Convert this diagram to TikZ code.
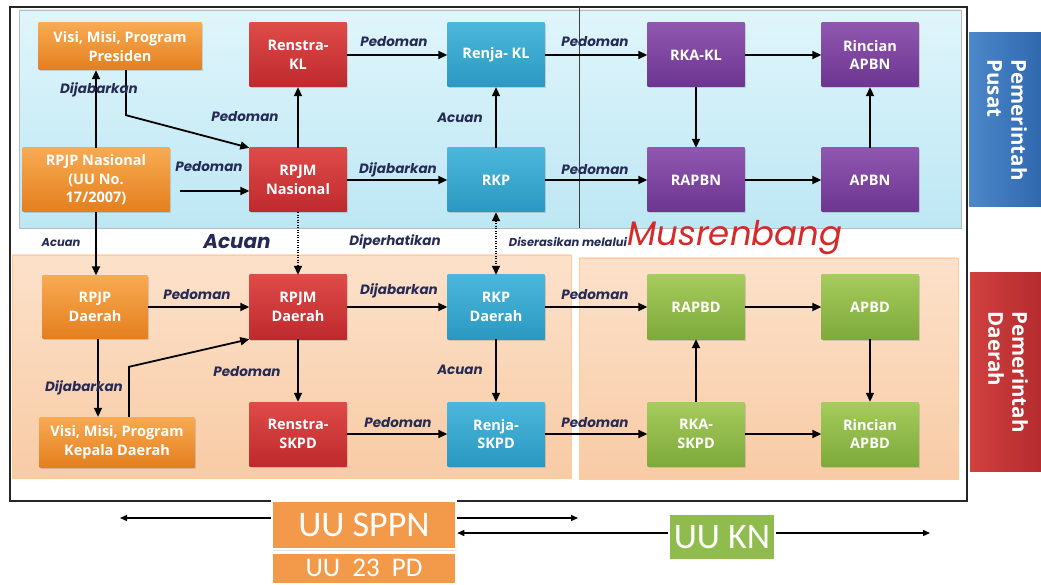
\documentclass[tikz,border=0pt]{standalone}
\usepackage{fontspec}
\setmainfont{Carlito}
\newfontfamily\boxfont{Open Sans}
\newfontfamily\lblfont{Poppins}
\newfontfamily\bigfont{Carlito}
\usetikzlibrary{arrows.meta,shadows}
\definecolor{navy}{HTML}{262B55}
\definecolor{orT}{HTML}{F8AA52}
\definecolor{orB}{HTML}{E47F1E}
\definecolor{rdT}{HTML}{DE4B48}
\definecolor{rdB}{HTML}{BF292E}
\definecolor{cyT}{HTML}{4CB7DB}
\definecolor{cyB}{HTML}{2A98C2}
\definecolor{puT}{HTML}{9057B0}
\definecolor{puB}{HTML}{6C3590}
\definecolor{grT}{HTML}{A5CC5C}
\definecolor{grB}{HTML}{7EA93B}
\definecolor{bluT}{HTML}{E0F5FB}
\definecolor{bluB}{HTML}{BDE7F4}
\definecolor{pchT}{HTML}{FCE1CA}
\definecolor{pchB}{HTML}{F8CBA5}
\definecolor{musred}{HTML}{D42A2A}
\definecolor{pusatT}{HTML}{4C88CA}
\definecolor{pusatB}{HTML}{2E66AC}
\definecolor{daerT}{HTML}{D0403F}
\definecolor{daerB}{HTML}{B32A2E}
\definecolor{uuor}{HTML}{F39A4A}
\definecolor{uugr}{HTML}{8FBC4C}
\begin{document}
\begin{tikzpicture}[x=1pt,y=-1pt,
  box/.style={minimum width=97pt, minimum height=64pt, align=center, text=white,
    font=\boxfont\bfseries\fontsize{14.5}{18.5}\selectfont, inner sep=1pt,
    drop shadow={shadow xshift=1.5pt, shadow yshift=-1.5pt, opacity=0.3}},
  orbox/.style={box, top color=orT, bottom color=orB},
  rdbox/.style={box, top color=rdT, bottom color=rdB},
  cybox/.style={box, top color=cyT, bottom color=cyB},
  pubox/.style={box, top color=puT, bottom color=puB},
  grbox/.style={box, top color=grT, bottom color=grB},
  arr/.style={-{Triangle[length=9pt,width=8pt]}, line width=1.8pt, black},
  dotarr/.style={arr, line width=1.5pt, dash pattern=on 1pt off 1.5pt},
  thinarr/.style={-{Triangle[length=7pt,width=6pt]}, line width=1.3pt, black},
  lbl/.style={font=\lblfont\bfseries\itshape\fontsize{13.5}{16}\selectfont, text=navy, inner sep=0pt},
  side/.style={rotate=-90, align=left, text=white, minimum height=76pt,
    font=\boxfont\bfseries\fontsize{20.5}{24}\selectfont},
  uubox/.style={text=white, font=\bigfont\fontsize{36}{40}\selectfont, draw=white, line width=2.5pt,
    drop shadow={shadow xshift=1pt, shadow yshift=-1.5pt, opacity=0.25}}
]
\clip (0,0) rectangle (1041,585);
\fill[white] (0,0) rectangle (1041,585);

% regions
\draw[line width=1.5pt, black!85] (10,7) rectangle (967,501);
\draw[draw=gray!55, top color=bluT, bottom color=bluB] (19,10) rectangle (961,228);
\draw[line width=1pt, black!75] (579,7) -- (579,228);
\draw[draw=orange!40, top color=pchT, bottom color=pchB] (12,255) rectangle (571,478);
\draw[draw=orange!40, top color=pchT, bottom color=pchB] (579,258) rectangle (958,479);

% side boxes
\node[side, minimum width=174pt, left color=pusatT, right color=pusatB] (pusat) at (1007,120) {Pemerintah\\Pusat};
\node[side, minimum width=199pt, left color=daerT, right color=daerB] (daerah) at (1008,372) {Pemerintah\\Daerah};

% top row
\node[orbox, minimum width=163pt, minimum height=47pt] (vmp) at (120,46.5) {Visi, Misi, Program\\Presiden};
\node[rdbox] (renstrakl) at (298,55) {Renstra-\\KL};
\node[cybox] (renjakl) at (496,55) {Renja- KL};
\node[pubox] (rkakl) at (696,55) {RKA-KL};
\node[pubox] (rincapbn) at (870,55) {Rincian\\APBN};
% second row
\node[orbox, minimum width=147pt] (rpjpn) at (96,180) {RPJP Nasional\\(UU No.\\17/2007)};
\node[rdbox] (rpjmn) at (298,180) {RPJM\\Nasional};
\node[cybox] (rkp) at (496,180) {RKP};
\node[pubox] (rapbn) at (696,180) {RAPBN};
\node[pubox] (apbn) at (870,180) {APBN};
% third row
\node[orbox, minimum width=105pt, minimum height=63pt] (rpjpd) at (95,307) {RPJP\\Daerah};
\node[rdbox] (rpjmd) at (298,307) {RPJM\\Daerah};
\node[cybox] (rkpd) at (496,307) {RKP\\Daerah};
\node[grbox] (rapbd) at (696,307) {RAPBD};
\node[grbox] (apbd) at (870,307) {APBD};
% fourth row
\node[orbox, minimum width=155pt, minimum height=50pt] (vmkd) at (117,442) {Visi, Misi, Program\\Kepala Daerah};
\node[rdbox] (renstraskpd) at (298,434) {Renstra-\\SKPD};
\node[cybox] (renjaskpd) at (496,434) {Renja-\\SKPD};
\node[grbox] (rkaskpd) at (696,434) {RKA-\\SKPD};
\node[grbox] (rincapbd) at (870,434) {Rincian\\APBD};

% connectors top
\draw[arr] (rpjpn.north) -- (rpjpn.north |- vmp.south);
\draw[arr] ([xshift=6pt]vmp.south) -- ++(0,45) -- (rpjmn.north west);
\draw[arr] ([shift={(10,11)}]rpjpn.east) -- ([shift={(0,11)}]rpjmn.west);
\draw[arr] (rpjmn.north) -- (renstrakl.south);
\draw[arr] (renstrakl.east) -- (renjakl.west);
\draw[arr] (renjakl.east) -- (rkakl.west);
\draw[arr] (rkakl.east) -- (rincapbn.west);
\draw[arr] (rkp.north) -- (renjakl.south);
\draw[arr] (rpjmn.east) -- (rkp.west);
\draw[arr] (rkp.east) -- (rapbn.west);
\draw[arr] (rkakl.south) -- (rapbn.north);
\draw[arr] (rapbn.east) -- (apbn.west);
\draw[arr] (apbn.north) -- (rincapbn.south);
% middle
\draw[arr] (rpjpn.south) -- (rpjpn.south |- rpjpd.north);
\draw[dotarr] (rpjmn.south) -- (rpjmd.north);
\draw[dotarr, {Triangle[length=9pt,width=8pt]}-{Triangle[length=9pt,width=8pt]}] (rkp.south) -- (rkpd.north);
% lower
\draw[arr] (rpjpd.east) -- (rpjmd.west);
\draw[arr] ([xshift=3pt]rpjpd.south) -- ([xshift=3pt]rpjpd.south |- vmkd.north);
\draw[arr] ([xshift=12pt]vmkd.north) -- ++(0,-50) -- (rpjmd.south west);
\draw[arr] (rpjmd.south) -- (renstraskpd.north);
\draw[arr] (renstraskpd.east) -- (renjaskpd.west);
\draw[arr] (rpjmd.east) -- (rkpd.west);
\draw[arr] (rkpd.south) -- (renjaskpd.north);
\draw[arr] (rkpd.east) -- (rapbd.west);
\draw[arr] (renjaskpd.east) -- (rkaskpd.west);
\draw[arr] (rkaskpd.north) -- (rapbd.south);
\draw[arr] (rapbd.east) -- (apbd.west);
\draw[arr] (apbd.south) -- (rincapbd.north);
\draw[arr] (rkaskpd.east) -- (rincapbd.west);

% labels
\node[lbl] (l1) at (99,90) {Dijabarkan};
\node[lbl] (l2) at (245,117) {Pedoman};
\node[lbl] (l3) at (209,167) {Pedoman};
\node[lbl] (l4) at (394,42) {Pedoman};
\node[lbl] (l5) at (595,42) {Pedoman};
\node[lbl] (l6) at (460,118) {Acuan};
\node[lbl] (l7) at (398,170) {Dijabarkan};
\node[lbl] (l8) at (595,170) {Pedoman};
\node[lbl, font=\lblfont\bfseries\itshape\fontsize{11.5}{14}\selectfont] (l9) at (61,243) {Acuan};
\node[lbl, font=\lblfont\bfseries\itshape\fontsize{20}{24}\selectfont] (l10) at (237,242) {Acuan};
\node[lbl] (l11) at (395,242) {Diperhatikan};
\node[lbl, font=\lblfont\bfseries\itshape\fontsize{11.5}{14}\selectfont] (l12) at (568,242) {Diserasikan melalui};
\node[lbl, font=\lblfont\itshape\fontsize{34}{38}\selectfont, text=musred] (l13) at (735,238) {Musrenbang};
\node[lbl] (l14) at (197,295) {Pedoman};
\node[lbl] (l15) at (399,291) {Dijabarkan};
\node[lbl] (l16) at (595,295) {Pedoman};
\node[lbl] (l17) at (84,388) {Dijabarkan};
\node[lbl] (l18) at (247,372) {Pedoman};
\node[lbl] (l19) at (460,370) {Acuan};
\node[lbl] (l20) at (398,423) {Pedoman};
\node[lbl] (l21) at (595,423) {Pedoman};

% bottom laws
\node[uubox, fill=uuor, minimum width=184pt, minimum height=48pt] (sppn) at (364,525) {UU SPPN};
\node[uubox, fill=uuor, minimum width=184pt, minimum height=32pt, inner sep=0pt,
  font=\bigfont\fontsize{27}{28}\selectfont, anchor=north] (uu23) at (364,551) {UU \ 23 \ PD};
\node[uubox, fill=uugr, minimum width=106pt, minimum height=47pt] (uukn) at (722,537) {UU KN};
\coordinate (c1) at (120,518);
\coordinate (c2) at (578,518);
\coordinate (c3) at (930,533);
\draw[thinarr] ([yshift=7pt]sppn.west) -- (c1);
\draw[thinarr] ([yshift=7pt]sppn.east) -- (c2);
\draw[thinarr] ([yshift=4pt]uukn.west) -- (sppn.east |- c3);
\draw[thinarr] ([yshift=4pt]uukn.east) -- (c3);
\end{tikzpicture}
\end{document}
